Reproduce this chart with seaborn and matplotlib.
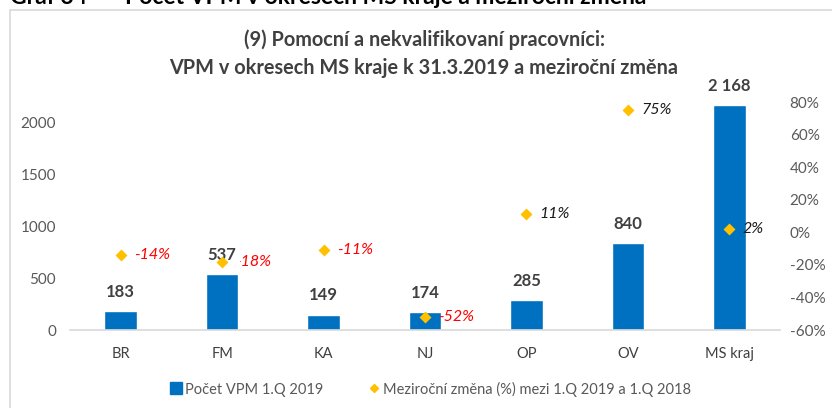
import matplotlib
matplotlib.use("Agg")
import matplotlib.pyplot as plt
import seaborn as sns
import pandas as pd
from matplotlib.patches import Rectangle
from matplotlib.lines import Line2D

# District data: number of vacancies (VPM) and year-on-year change
districts = ["BR", "FM", "KA", "NJ", "OP", "OV", "MS kraj"]
vacancies = [183, 537, 149, 174, 285, 840, 2168]
change_pct = [-14, -18, -11, -52, 11, 75, 2]

bar_label = "Počet VPM 1.Q 2019"
change_label = "Meziroční změna (%) mezi 1.Q 2019 a 1.Q 2018"
title_lines = ["(9) Pomocní a nekvalifikovaní pracovníci:",
               "VPM v okresech MS kraje k 31.3.2019 a meziroční změna"]

df = pd.DataFrame({"okres": districts, "vpm": vacancies,
                   "zmena": [c / 100 for c in change_pct]})

sns.set_theme(style="white")
plt.rcParams["font.family"] = ["Lato", "DejaVu Sans"]

BLUE = "#0070C0"
GOLD = "#FFC000"
GRAY = "#595959"
DARK = "#404040"

fig = plt.figure(figsize=(8.32, 4.08), dpi=100)

# chart frame
fig.patches.append(Rectangle((10 / 832, -0.1), 1.2, 0.1 + (1 - 9.5 / 408),
                             transform=fig.transFigure, fill=False,
                             edgecolor="#D9D9D9", linewidth=1.2))
# caption above the chart
fig.text(10 / 832, 1 - 4 / 408, "Graf 34", fontsize=16.5, fontweight="bold",
         color="black", va="baseline", ha="left")
fig.text(125 / 832, 1 - 4 / 408, "Počet VPM v okresech MS kraje a meziroční změna",
         fontsize=16.5, fontweight="bold", color="black", va="baseline", ha="left")

ax = fig.add_axes([70 / 832, 1 - 330 / 408, 710 / 832, 228 / 408])
sns.barplot(data=df, x="okres", y="vpm", color=BLUE, width=0.32,
            saturation=1, ax=ax, zorder=2)
ax.set_xlim(-0.5, 6.5)
ax.set_ylim(0, 2200)
ax.set_yticks([0, 500, 1000, 1500, 2000])
ax.set_xlabel("")
ax.set_ylabel("")
for s in ["top", "right", "left"]:
    ax.spines[s].set_visible(False)
ax.spines["bottom"].set_color("#D9D9D9")
ax.spines["bottom"].set_linewidth(1.2)
ax.tick_params(axis="y", colors=GRAY, labelsize=11, length=0, pad=10)
ax.tick_params(axis="x", colors=DARK, labelsize=10.5, length=0, pad=12)
ax.patch.set_alpha(0)

ax2 = ax.twinx()
sns.pointplot(data=df, x="okres", y="zmena", color=GOLD, linestyle="none",
              marker="D", markersize=3.6, errorbar=None, ax=ax2)
# markers stay above the value labels
for art in list(ax2.lines) + list(ax2.collections):
    art.set_zorder(8)
ax2.set_xlim(-0.5, 6.5)
ax2.set_ylim(-0.6, 0.8)
ax2.set_yticks([-0.6, -0.4, -0.2, 0, 0.2, 0.4, 0.6, 0.8])
ax2.set_yticklabels([f"{int(round(t * 100))}%" for t in ax2.get_yticks()])
ax2.set_ylabel("")
ax2.set_xlabel("")
for s in ["top", "right", "left", "bottom"]:
    ax2.spines[s].set_visible(False)
ax2.tick_params(axis="y", colors=GRAY, labelsize=11, length=0, pad=7)

# percentage labels next to the markers
for i, c in enumerate(change_pct):
    ax2.annotate(f"{c}%", xy=(i, c / 100), xytext=(9.5, 0),
                 textcoords="offset points", ha="left", va="center",
                 fontsize=11.5, fontstyle="italic",
                 color="#FF0000" if c < 0 else "#1a1a1a", zorder=4)

# bar value labels (white box sits on top of nearby percentage labels)
for i, v in enumerate(vacancies):
    ax2.annotate(f"{v:,}".replace(",", " "), xy=(i, v), xycoords=ax.transData,
                 xytext=(0, 8), textcoords="offset points", ha="center",
                 va="bottom", fontsize=12, fontweight="bold", color=DARK,
                 bbox=dict(boxstyle="square,pad=0.2", fc="white", ec="none"),
                 zorder=6)

# title
fig.text(424 / 832, 1 - 40 / 408, title_lines[0], fontsize=14.3, fontweight="bold",
         color=DARK, ha="center", va="center")
fig.text(424 / 832, 1 - 68 / 408, title_lines[1], fontsize=14.3, fontweight="bold",
         color=DARK, ha="center", va="center")

handles = [Line2D([], [], marker="s", linestyle="none", color=BLUE, markersize=8),
           Line2D([], [], marker="D", linestyle="none", color=GOLD, markersize=4.5)]
fig.legend(handles, [bar_label, change_label], loc="center",
           bbox_to_anchor=(430 / 832, 1 - 389 / 408), ncol=2, frameon=False,
           fontsize=10.5, labelcolor=GRAY, handletextpad=0.1, columnspacing=3,
           handlelength=1)

fig.savefig("out.png", dpi=100)
